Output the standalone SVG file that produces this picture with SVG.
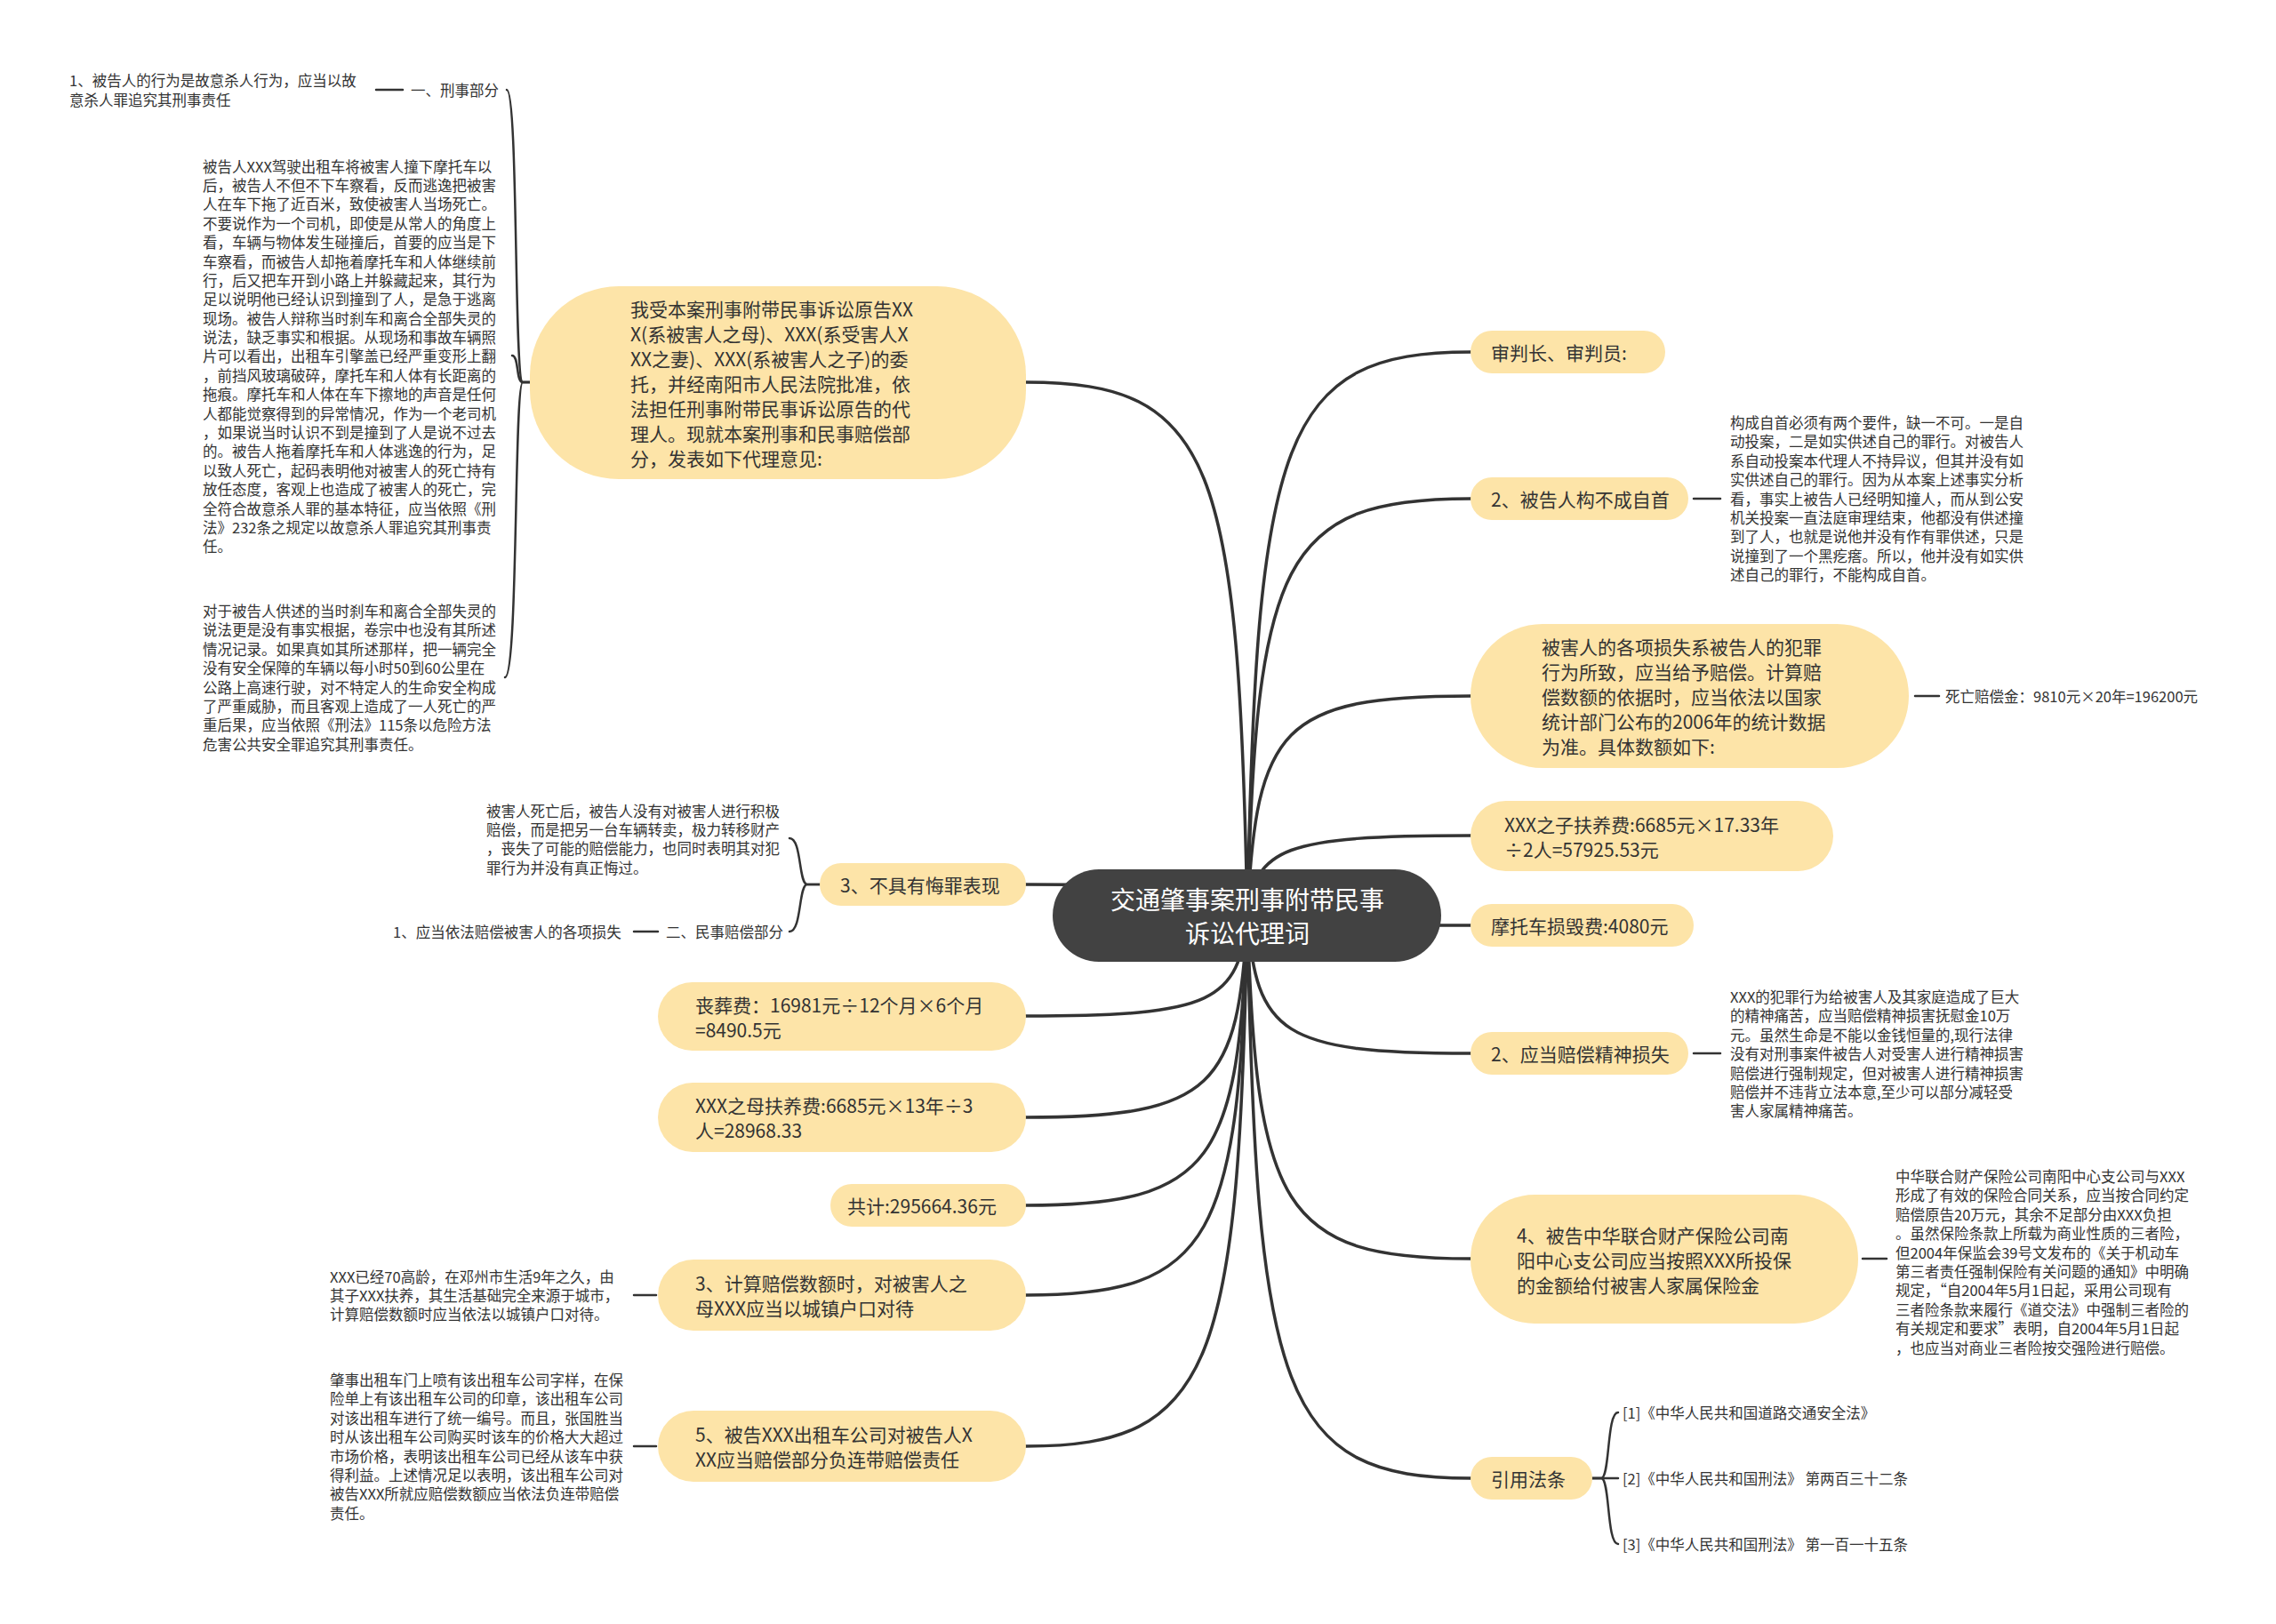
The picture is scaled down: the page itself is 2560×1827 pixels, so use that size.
<svg xmlns="http://www.w3.org/2000/svg" width="2560" height="1827" viewBox="0 0 2560 1827">
<style>
text{font-family:"Noto Sans CJK SC","Noto Sans",sans-serif;fill:#333;dominant-baseline:central}
.n{font-size:21px}
.l{font-size:16.5px}
.c{font-size:28px;fill:#fff;text-anchor:middle}
.pill{fill:#FDE4A8}
.core{fill:#424242}
.ln{fill:none;stroke:#333;stroke-width:3.5;stroke-linecap:round}
.tl{fill:none;stroke:#333;stroke-width:2.5;stroke-linecap:round}
</style>
<rect width="2560" height="1827" fill="#fff"/>
<g id="connectors">
<path class="ln" d="M1403,1030 C1413,491 1441,396 1654,396"/>
<path class="ln" d="M1403,1030 C1413,631 1441,561 1654,561"/>
<path class="ln" d="M1403,1030 C1413,818 1441,783 1654,783"/>
<path class="ln" d="M1403,1030 C1413,954 1441,940 1654,940"/>
<path class="ln" d="M1403,1030 C1413,1039 1441,1041 1654,1041"/>
<path class="ln" d="M1403,1030 C1413,1163 1441,1185 1654,1185"/>
<path class="ln" d="M1403,1030 C1413,1358 1441,1416 1654,1416"/>
<path class="ln" d="M1403,1030 C1413,1569 1441,1663 1654,1663"/>
<path class="ln" d="M1403,1030 C1393,520 1366,430 1154,430"/>
<path class="ln" d="M1403,1030 C1393,1004 1366,995 1154,995"/>
<path class="ln" d="M1403,1030 C1393,1127 1366,1143 1154,1143"/>
<path class="ln" d="M1403,1030 C1393,1222 1366,1257 1154,1257"/>
<path class="ln" d="M1403,1030 C1393,1306 1366,1356 1154,1356"/>
<path class="ln" d="M1403,1030 C1393,1392 1366,1457 1154,1457"/>
<path class="ln" d="M1403,1030 C1393,1536 1366,1627 1154,1627"/>
<!-- bubble brace -->
<path class="tl" d="M596,430 L588,430 C578,430 583,101 570,101"/>
<path class="tl" d="M596,430 L588,430 C580,430 584,400 576,400"/>
<path class="tl" d="M596,430 L588,430 C578,430 583,762 568,762"/>
<path class="tl" d="M423,101 L453,101"/>
<!-- 3 brace -->
<path class="tl" d="M922,995 L908,995 C898,995 902,943 888,943"/>
<path class="tl" d="M922,995 L908,995 C898,995 902,1048 888,1048"/>
<path class="tl" d="M713,1048 L740,1048"/>
<!-- short ties -->
<path class="tl" d="M1905,561 L1935,561"/>
<path class="tl" d="M2154,783 L2181,783"/>
<path class="tl" d="M1905,1185 L1935,1185"/>
<path class="tl" d="M2095,1416 L2122,1416"/>
<path class="tl" d="M713,1457 L738,1457"/>
<path class="tl" d="M713,1627 L738,1627"/>
<!-- law brace -->
<path class="tl" d="M1791,1663 L1801,1663 C1811,1663 1807,1589 1820,1589"/>
<path class="tl" d="M1791,1663 L1820,1663"/>
<path class="tl" d="M1791,1663 L1801,1663 C1811,1663 1807,1737 1820,1737"/>
</g>

<g id="center">
<rect class="core" x="1184" y="978" width="437" height="104" rx="52"/>
<text class="c" x="1403" y="1011">交通肇事案刑事附带民事</text>
<text class="c" x="1403" y="1049">诉讼代理词</text>
</g>

<g id="r1">
<rect class="pill" x="1654" y="372" width="219" height="48" rx="24"/>
<text class="n" x="1677" y="396">审判长、审判员:</text>
</g>

<g id="r2">
<rect class="pill" x="1654" y="537" width="245" height="48" rx="24"/>
<text class="n" x="1677" y="561">2、被告人构不成自首</text>
</g>
<g id="r2-leaf">
<text class="l" x="1946" y="475">构成自首必须有两个要件，缺一不可。一是自<tspan x="1946" dy="21.4">动投案，二是如实供述自己的罪行。对被告人</tspan><tspan x="1946" dy="21.4">系自动投案本代理人不持异议，但其并没有如</tspan><tspan x="1946" dy="21.4">实供述自己的罪行。因为从本案上述事实分析</tspan><tspan x="1946" dy="21.4">看，事实上被告人已经明知撞人，而从到公安</tspan><tspan x="1946" dy="21.4">机关投案一直法庭审理结束，他都没有供述撞</tspan><tspan x="1946" dy="21.4">到了人，也就是说他并没有作有罪供述，只是</tspan><tspan x="1946" dy="21.4">说撞到了一个黑疙瘩。所以，他并没有如实供</tspan><tspan x="1946" dy="21.4">述自己的罪行，不能构成自首。</tspan></text>
</g>

<g id="r3">
<rect class="pill" x="1654" y="702" width="493" height="162" rx="81"/>
<text class="n" x="1734" y="727">被害人的各项损失系被告人的犯罪<tspan x="1734" dy="28">行为所致，应当给予赔偿。计算赔</tspan><tspan x="1734" dy="28">偿数额的依据时，应当依法以国家</tspan><tspan x="1734" dy="28">统计部门公布的2006年的统计数据</tspan><tspan x="1734" dy="28">为准。具体数额如下:</tspan></text>
</g>
<g id="r3-leaf">
<text class="l" x="2188" y="783">死亡赔偿金：9810元×20年=196200元</text>
</g>

<g id="r4">
<rect class="pill" x="1654" y="901" width="408" height="79" rx="39.5"/>
<text class="n" x="1692" y="926.5">XXX之子扶养费:6685元×17.33年<tspan x="1692" dy="28">÷2人=57925.53元</tspan></text>
</g>

<g id="r5">
<rect class="pill" x="1654" y="1017" width="251" height="48" rx="24"/>
<text class="n" x="1677" y="1041">摩托车损毁费:4080元</text>
</g>

<g id="r6">
<rect class="pill" x="1654" y="1161" width="245" height="48" rx="24"/>
<text class="n" x="1677" y="1185">2、应当赔偿精神损失</text>
</g>
<g id="r6-leaf">
<text class="l" x="1946" y="1121">XXX的犯罪行为给被害人及其家庭造成了巨大<tspan x="1946" dy="21.4">的精神痛苦，应当赔偿精神损害抚慰金10万</tspan><tspan x="1946" dy="21.4">元。虽然生命是不能以金钱恒量的,现行法律</tspan><tspan x="1946" dy="21.4">没有对刑事案件被告人对受害人进行精神损害</tspan><tspan x="1946" dy="21.4">赔偿进行强制规定，但对被害人进行精神损害</tspan><tspan x="1946" dy="21.4">赔偿并不违背立法本意,至少可以部分减轻受</tspan><tspan x="1946" dy="21.4">害人家属精神痛苦。</tspan></text>
</g>

<g id="r7">
<rect class="pill" x="1654" y="1344" width="436" height="145" rx="72"/>
<text class="n" x="1706" y="1388.5">4、被告中华联合财产保险公司南<tspan x="1706" dy="28">阳中心支公司应当按照XXX所投保</tspan><tspan x="1706" dy="28">的金额给付被害人家属保险金</tspan></text>
</g>
<g id="r7-leaf">
<text class="l" x="2132" y="1323">中华联合财产保险公司南阳中心支公司与XXX<tspan x="2132" dy="21.4">形成了有效的保险合同关系，应当按合同约定</tspan><tspan x="2132" dy="21.4">赔偿原告20万元，其余不足部分由XXX负担</tspan><tspan x="2132" dy="21.4">。虽然保险条款上所载为商业性质的三者险，</tspan><tspan x="2132" dy="21.4">但2004年保监会39号文发布的《关于机动车</tspan><tspan x="2132" dy="21.4">第三者责任强制保险有关问题的通知》中明确</tspan><tspan x="2132" dy="21.4">规定，“自2004年5月1日起，采用公司现有</tspan><tspan x="2132" dy="21.4">三者险条款来履行《道交法》中强制三者险的</tspan><tspan x="2132" dy="21.4">有关规定和要求”表明，自2004年5月1日起</tspan><tspan x="2132" dy="21.4">，也应当对商业三者险按交强险进行赔偿。</tspan></text>
</g>

<g id="r8">
<rect class="pill" x="1654" y="1639" width="137" height="48" rx="24"/>
<text class="n" x="1677" y="1663">引用法条</text>
</g>
<g id="r8-leaves">
<text class="l" x="1825" y="1589">[1]《中华人民共和国道路交通安全法》</text>
<text class="l" x="1825" y="1663">[2]《中华人民共和国刑法》 第两百三十二条</text>
<text class="l" x="1825" y="1737">[3]《中华人民共和国刑法》 第一百一十五条</text>
</g>

<g id="l-bubble">
<rect class="pill" x="596" y="322" width="558" height="217" rx="100"/>
<text class="n" x="709" y="346.5">我受本案刑事附带民事诉讼原告XX<tspan x="709" dy="28">X(系被害人之母)、XXX(系受害人X</tspan><tspan x="709" dy="28">XX之妻)、XXX(系被害人之子)的委</tspan><tspan x="709" dy="28">托，并经南阳市人民法院批准，依</tspan><tspan x="709" dy="28">法担任刑事附带民事诉讼原告的代</tspan><tspan x="709" dy="28">理人。现就本案刑事和民事赔偿部</tspan><tspan x="709" dy="28">分，发表如下代理意见:</tspan></text>
</g>
<g id="l-criminal">
<text class="l" x="462" y="101">一、刑事部分</text>
</g>
<g id="l-criminal-leaf">
<text class="l" x="78" y="90.3">1、被告人的行为是故意杀人行为，应当以故<tspan x="78" dy="21.4">意杀人罪追究其刑事责任</tspan></text>
</g>
<g id="l-para1">
<text class="l" x="228" y="186.5">被告人XXX驾驶出租车将被害人撞下摩托车以<tspan x="228" dy="21.4">后，被告人不但不下车察看，反而逃逸把被害</tspan><tspan x="228" dy="21.4">人在车下拖了近百米，致使被害人当场死亡。</tspan><tspan x="228" dy="21.4">不要说作为一个司机，即使是从常人的角度上</tspan><tspan x="228" dy="21.4">看，车辆与物体发生碰撞后，首要的应当是下</tspan><tspan x="228" dy="21.4">车察看，而被告人却拖着摩托车和人体继续前</tspan><tspan x="228" dy="21.4">行，后又把车开到小路上并躲藏起来，其行为</tspan><tspan x="228" dy="21.4">足以说明他已经认识到撞到了人，是急于逃离</tspan><tspan x="228" dy="21.4">现场。被告人辩称当时刹车和离合全部失灵的</tspan><tspan x="228" dy="21.4">说法，缺乏事实和根据。从现场和事故车辆照</tspan><tspan x="228" dy="21.4">片可以看出，出租车引擎盖已经严重变形上翻</tspan><tspan x="228" dy="21.4">，前挡风玻璃破碎，摩托车和人体有长距离的</tspan><tspan x="228" dy="21.4">拖痕。摩托车和人体在车下擦地的声音是任何</tspan><tspan x="228" dy="21.4">人都能觉察得到的异常情况，作为一个老司机</tspan><tspan x="228" dy="21.4">，如果说当时认识不到是撞到了人是说不过去</tspan><tspan x="228" dy="21.4">的。被告人拖着摩托车和人体逃逸的行为，足</tspan><tspan x="228" dy="21.4">以致人死亡，起码表明他对被害人的死亡持有</tspan><tspan x="228" dy="21.4">放任态度，客观上也造成了被害人的死亡，完</tspan><tspan x="228" dy="21.4">全符合故意杀人罪的基本特征，应当依照《刑</tspan><tspan x="228" dy="21.4">法》232条之规定以故意杀人罪追究其刑事责</tspan><tspan x="228" dy="21.4">任。</tspan></text>
</g>
<g id="l-para2">
<text class="l" x="228" y="687">对于被告人供述的当时刹车和离合全部失灵的<tspan x="228" dy="21.4">说法更是没有事实根据，卷宗中也没有其所述</tspan><tspan x="228" dy="21.4">情况记录。如果真如其所述那样，把一辆完全</tspan><tspan x="228" dy="21.4">没有安全保障的车辆以每小时50到60公里在</tspan><tspan x="228" dy="21.4">公路上高速行驶，对不特定人的生命安全构成</tspan><tspan x="228" dy="21.4">了严重威胁，而且客观上造成了一人死亡的严</tspan><tspan x="228" dy="21.4">重后果，应当依照《刑法》115条以危险方法</tspan><tspan x="228" dy="21.4">危害公共安全罪追究其刑事责任。</tspan></text>
</g>

<g id="l3">
<rect class="pill" x="922" y="971" width="232" height="48" rx="24"/>
<text class="n" x="945" y="995">3、不具有悔罪表现</text>
</g>
<g id="l3-leaf">
<text class="l" x="547" y="911.5">被害人死亡后，被告人没有对被害人进行积极<tspan x="547" dy="21.4">赔偿，而是把另一台车辆转卖，极力转移财产</tspan><tspan x="547" dy="21.4">，丧失了可能的赔偿能力，也同时表明其对犯</tspan><tspan x="547" dy="21.4">罪行为并没有真正悔过。</tspan></text>
</g>
<g id="l-civil">
<text class="l" x="749" y="1048">二、民事赔偿部分</text>
</g>
<g id="l-civil-leaf">
<text class="l" x="442" y="1048">1、应当依法赔偿被害人的各项损失</text>
</g>

<g id="l-funeral">
<rect class="pill" x="740" y="1105" width="414" height="77" rx="38.5"/>
<text class="n" x="782" y="1129.5">丧葬费：16981元÷12个月×6个月<tspan x="782" dy="28">=8490.5元</tspan></text>
</g>
<g id="l-mother">
<rect class="pill" x="740" y="1218" width="414" height="78" rx="39"/>
<text class="n" x="782" y="1243">XXX之母扶养费:6685元×13年÷3<tspan x="782" dy="28">人=28968.33</tspan></text>
</g>
<g id="l-total">
<rect class="pill" x="934" y="1332" width="220" height="48" rx="24"/>
<text class="n" x="953" y="1356">共计:295664.36元</text>
</g>
<g id="l-calc">
<rect class="pill" x="740" y="1417" width="414" height="80" rx="40"/>
<text class="n" x="782" y="1443">3、计算赔偿数额时，对被害人之<tspan x="782" dy="28">母XXX应当以城镇户口对待</tspan></text>
</g>
<g id="l-calc-leaf">
<text class="l" x="371" y="1435.6">XXX已经70高龄，在邓州市生活9年之久，由<tspan x="371" dy="21.4">其子XXX扶养，其生活基础完全来源于城市，</tspan><tspan x="371" dy="21.4">计算赔偿数额时应当依法以城镇户口对待。</tspan></text>
</g>
<g id="l-taxi">
<rect class="pill" x="740" y="1587" width="414" height="80" rx="40"/>
<text class="n" x="782" y="1613">5、被告XXX出租车公司对被告人X<tspan x="782" dy="28">XX应当赔偿部分负连带赔偿责任</tspan></text>
</g>
<g id="l-taxi-leaf">
<text class="l" x="371" y="1552">肇事出租车门上喷有该出租车公司字样，在保<tspan x="371" dy="21.4">险单上有该出租车公司的印章，该出租车公司</tspan><tspan x="371" dy="21.4">对该出租车进行了统一编号。而且，张国胜当</tspan><tspan x="371" dy="21.4">时从该出租车公司购买时该车的价格大大超过</tspan><tspan x="371" dy="21.4">市场价格，表明该出租车公司已经从该车中获</tspan><tspan x="371" dy="21.4">得利益。上述情况足以表明，该出租车公司对</tspan><tspan x="371" dy="21.4">被告XXX所就应赔偿数额应当依法负连带赔偿</tspan><tspan x="371" dy="21.4">责任。</tspan></text>
</g>
</svg>
